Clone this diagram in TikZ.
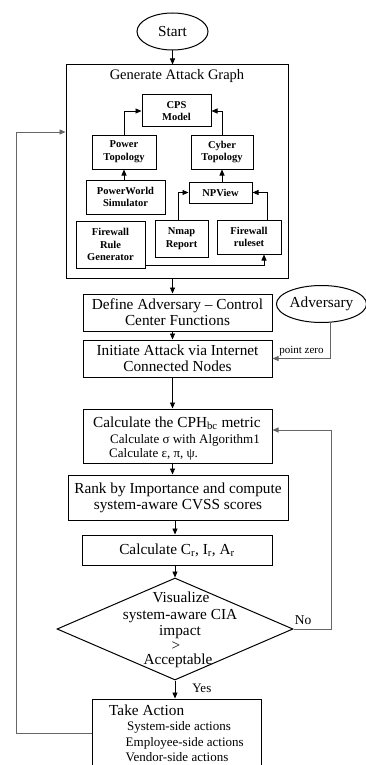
\documentclass[tikz,border=0pt]{standalone}
\usepackage{fontspec}
\setmainfont{Liberation Serif}
\usetikzlibrary{arrows.meta,shapes.geometric,calc}
\newcommand{\mfs}{\fontsize{15.3}{16}\selectfont}
\newcommand{\sfs}{\fontsize{13}{15}\selectfont}
\tikzset{
  box/.style={draw, line width=1pt, inner sep=0pt, align=center, font=\mfs},
  ibox/.style={draw, line width=1pt, inner sep=0pt, align=center, font=\bfseries\fontsize{10.5}{12.7}\selectfont},
  arr/.style={line width=0.8pt, -{Triangle[length=6pt,width=5pt]}},
  garr/.style={arr, draw=black!60},
  txt/.style={inner sep=0pt, anchor=base west},
}
\begin{document}
\begin{tikzpicture}[x=1pt,y=-1pt]
\useasboundingbox (0,0) rectangle (365,765);
% top
\node[box, ellipse, minimum width=71, minimum height=37] (start) at (172.5,31.5) {Start};
\node[box, minimum width=222, minimum height=213] (gag) at (177,171.5) {};
\node[inner sep=0pt, font=\fontsize{14.5}{15}\selectfont] (gagt) at (177,76) {Generate Attack Graph};
% inner boxes
\node[ibox, minimum width=69, minimum height=32] (cps) at (176.5,111) {CPS\\Model};
\node[ibox, minimum width=64, minimum height=34] (pt) at (124,152) {Power\\Topology};
\node[ibox, minimum width=62, minimum height=34] (ct) at (222,152) {Cyber\\Topology};
\node[ibox, minimum width=79, minimum height=34] (pws) at (125.5,197) {PowerWorld\\Simulator};
\node[ibox, minimum width=63, minimum height=21] (npv) at (220.5,192.5) {NPView};
\node[ibox, minimum width=69, minimum height=47] (frg) at (110.5,244.5) {Firewall\\Rule\\Generator};
\node[ibox, minimum width=53, minimum height=37] (nmap) at (181.5,238.5) {Nmap\\Report};
\node[ibox, minimum width=64, minimum height=34] (fwr) at (249,237) {Firewall\\ruleset};
\draw[arr] (pt.north) |- (cps.west);
\draw[arr] (ct.north) |- (cps.east);
\draw[arr] (pws.north -| pt.south) -- (pt.south);
\draw[arr] (npv.north -| ct.south) -- (ct.south);
\draw[arr] ($(nmap.north)+(-3.5,0)$) |- (npv.west);
\draw[arr] ($(fwr.north)+(18,0)$) |- (npv.east);
\draw[arr] ($(frg.east)+(0,20.5)$) -| ($(fwr.south)+(15,0)$);
% main flow
\node[box, minimum width=189, minimum height=37] (def) at (177.5,312.5) {Define Adversary – Control\\Center Functions};
\node[box, ellipse, minimum width=77, minimum height=37] (adv) at (321.5,304) {Adversary};
\node[box, minimum width=189, minimum height=37] (init) at (177.5,358.5) {Initiate Attack via Internet\\Connected Nodes};
\node[box, minimum width=189, minimum height=54] (cph) at (177.5,436) {};
\node[txt, font=\mfs] (cphA) at (93,427) {Calculate the CPH\textsubscript{bc} metric};
\node[txt, font=\sfs] (cphB) at (110,443) {Calculate σ with Algorithm1};
\node[txt, font=\sfs] (cphC) at (109,457) {Calculate ε, π, ψ.};
\node[box, minimum width=220, minimum height=45] (rank) at (178,497.5) {Rank by Importance and compute\\system-aware CVSS scores};
\node[box, minimum width=190, minimum height=30] (cr) at (177,550) {Calculate C\textsubscript{r}, I\textsubscript{r}, A\textsubscript{r}};
\node[draw, line width=1pt, diamond, minimum width=236, minimum height=102, inner sep=0pt] (dia) at (175,629) {};
\node[inner sep=0pt, anchor=base, font=\mfs] (dA) at (181,602) {Visualize};
\node[inner sep=0pt, anchor=base, font=\mfs] (dB) at (180,619) {system-aware CIA};
\node[inner sep=0pt, anchor=base, font=\mfs] (dC) at (180,635.5) {impact};
\node[inner sep=0pt, anchor=base, font=\mfs] (dD) at (176,650.5) {>};
\node[inner sep=0pt, anchor=base, font=\mfs] (dE) at (178,664.5) {Acceptable};
\node[box, minimum width=169, minimum height=68] (ta) at (176.5,733) {};
\node[txt, font=\mfs] (taA) at (109,715) {Take Action};
\node[txt, font=\sfs] (taB) at (127,730.5) {System-side actions};
\node[txt, font=\sfs] (taC) at (125.5,746) {Employee-side actions};
\node[txt, font=\sfs] (taD) at (125.5,761.5) {Vendor-side actions};
% arrows
\draw[arr] (start.south) -- (start.south |- gag.north);
\draw[arr] (gag.south -| start.south) -- (def.north -| start.south);
\draw[arr] (def.south -| start.south) -- (init.north -| start.south);
\draw[arr] (init.south -| start.south) -- (cph.north -| start.south);
\draw[arr] (cph.south -| start.south) -- (rank.north -| start.south);
\draw[arr] (rank.south -| dia.north) -- (cr.north -| dia.north);
\draw[arr] (cr.south -| dia.north) -- (dia.north);
\draw[arr] (dia.south) -- (ta.north -| dia.south) node[pos=0.45, right=17pt, inner sep=0pt, font=\fontsize{13}{13}\selectfont] (yes) {Yes};
\draw[garr] ($(adv.south)+(9,0)$) |- (init.east) node[pos=0.75, above=2pt, inner sep=0pt, font=\fontsize{11}{11}\selectfont] (pz) {point zero};
\coordinate (nr) at ($(dia.east)+(38,0)$);
\draw[garr] (dia.east) -- (nr) |- ($(cph.east)+(0,-6)$);
\node[inner sep=0pt, font=\fontsize{13.5}{13.5}\selectfont] (no) at (303,620) {No};
\coordinate (lf) at ($(ta.west)+(-75,0)$);
\draw[garr] (ta.west) -- (lf) |- ($(gag.west)+(0,-39.5)$);
\end{tikzpicture}
\end{document}
